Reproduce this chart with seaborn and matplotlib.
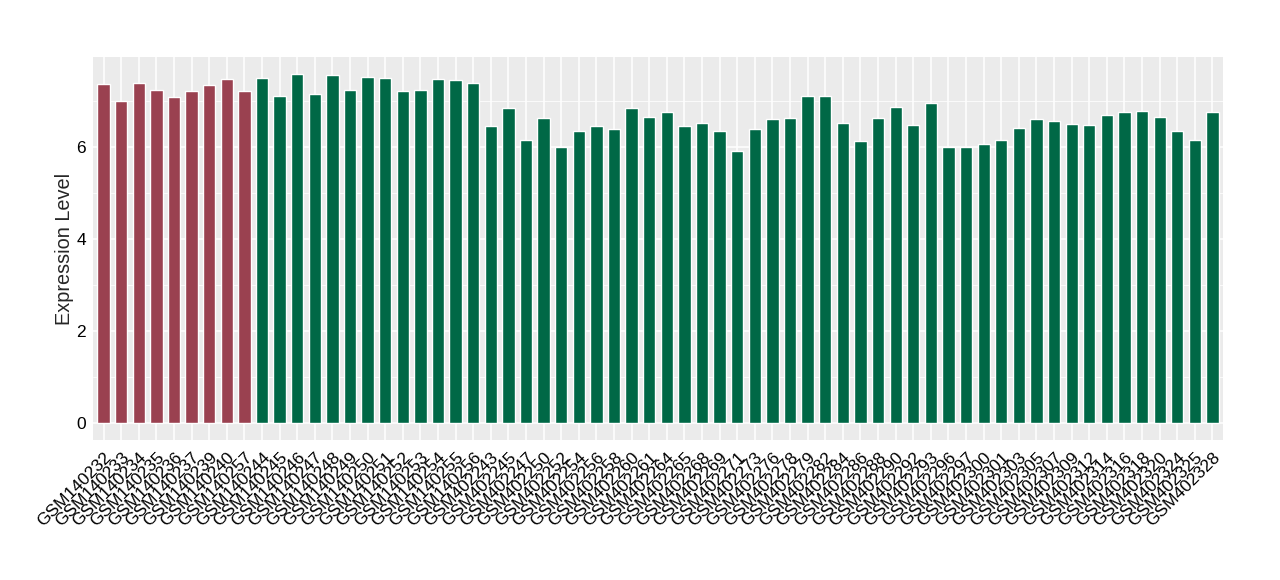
import matplotlib
matplotlib.use("Agg")
import matplotlib.pyplot as plt
import numpy as np
import pandas as pd
import seaborn as sns

# Sample names (x axis) and expression values
control_samples = [
    "GSM140232", "GSM140233", "GSM140234", "GSM140235", "GSM140236",
    "GSM140237", "GSM140239", "GSM140240", "GSM140257",
]
control_values = [7.39, 7.00, 7.41, 7.24, 7.09, 7.22, 7.35, 7.48, 7.22]

case_samples = [
    "GSM140244", "GSM140245", "GSM140246", "GSM140247", "GSM140248",
    "GSM140249", "GSM140250", "GSM140251", "GSM140252", "GSM140253",
    "GSM140254", "GSM140255", "GSM140256",
    "GSM402243", "GSM402245", "GSM402247", "GSM402250", "GSM402252",
    "GSM402254", "GSM402256", "GSM402258", "GSM402260", "GSM402261",
    "GSM402264", "GSM402265", "GSM402268", "GSM402269", "GSM402271",
    "GSM402273", "GSM402276", "GSM402278", "GSM402279", "GSM402282",
    "GSM402284", "GSM402286", "GSM402288", "GSM402290", "GSM402292",
    "GSM402293", "GSM402296", "GSM402297", "GSM402300", "GSM402301",
    "GSM402303", "GSM402305", "GSM402307", "GSM402309", "GSM402312",
    "GSM402314", "GSM402316", "GSM402318", "GSM402320", "GSM402324",
    "GSM402325", "GSM402328",
]
case_values = [
    7.52, 7.11, 7.59, 7.17, 7.57, 7.26, 7.54, 7.52, 7.22, 7.26,
    7.48, 7.46, 7.41,
    6.46, 6.85, 6.17, 6.63, 6.00, 6.35, 6.46, 6.41, 6.85, 6.67,
    6.78, 6.46, 6.54, 6.35, 5.91, 6.41, 6.61, 6.65, 7.13, 7.11,
    6.54, 6.13, 6.63, 6.89, 6.48, 6.96, 6.00, 6.00, 6.07, 6.15,
    6.43, 6.61, 6.57, 6.50, 6.48, 6.70, 6.76, 6.80, 6.67, 6.35,
    6.17, 6.76,
]

group_colors = {"control": "#9A4150", "case": "#006846"}

df = pd.DataFrame({
    "sample": control_samples + case_samples,
    "value": control_values + case_values,
    "group": ["control"] * len(control_samples) + ["case"] * len(case_samples),
})

sns.set_theme(style="white")
plt.rcParams["font.family"] = ["Liberation Sans", "DejaVu Sans"]

fig = plt.figure(figsize=(12.8, 5.8), dpi=100)
ax = fig.add_axes([0.0727, 0.2414, 0.8828, 0.6603])
ax.set_facecolor("#EBEBEB")

sns.barplot(
    data=df, x="sample", y="value", hue="group", palette=group_colors,
    dodge=False, width=0.7, saturation=1, legend=False, ax=ax, zorder=3,
)

n = len(df)
ax.set_xlim(-0.6, n - 0.4)
ymax = df["value"].max() * 1.05
ax.set_ylim(-df["value"].max() * 0.05, ymax)
ax.set_yticks([0, 2, 4, 6])
ax.set_yticks([1, 3, 5, 7], minor=True)

ax.grid(True, which="major", axis="both", color="white", linewidth=1.1, zorder=0)
ax.grid(True, which="minor", axis="y", color="white", linewidth=0.55, zorder=0)
ax.set_axisbelow(True)
for s in ax.spines.values():
    s.set_visible(False)

ax.tick_params(axis="both", which="major", length=3, width=0.8, color="#333333",
               labelsize=12.5, labelcolor="black", pad=2)
ax.tick_params(axis="x", which="major", pad=4)
ax.tick_params(axis="y", which="minor", length=0)
plt.setp(ax.get_xticklabels(), rotation=45, ha="right", rotation_mode="anchor")

ax.set_xlabel("")
ax.set_ylabel("Expression Level", fontsize=14.3, labelpad=2)

fig.savefig("out.png", dpi=100)
